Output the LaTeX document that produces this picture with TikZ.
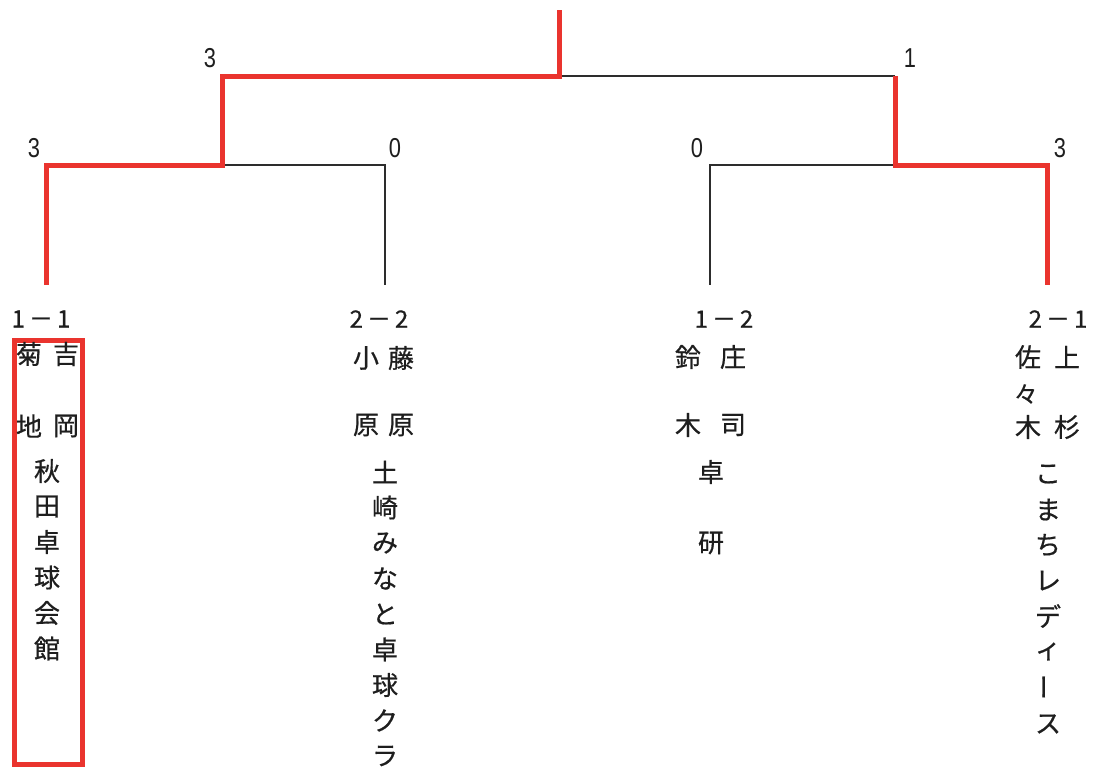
\documentclass[tikz,border=0pt]{standalone}
\usepackage{fontspec}
\setmainfont{Liberation Sans}
\newfontfamily\jpf[FakeBold=0.6]{Noto Sans CJK JP}
\newfontfamily\condf[FakeStretch=0.8]{Liberation Sans}
\definecolor{bred}{RGB}{234,52,46}
\definecolor{bline}{RGB}{45,45,45}
\definecolor{txt}{RGB}{30,30,30}
\begin{document}
\begin{tikzpicture}[x=0.75pt,y=-0.75pt,
  redline/.style={draw=bred,line width=3.75pt,line join=miter,line cap=butt},
  blackline/.style={draw=bline,line width=1.1pt},
  scorelab/.style={font=\condf\fontsize{20.5}{20.5}\selectfont,text=txt,inner sep=0pt},
  reslab/.style={font=\jpf\fontsize{18}{18}\selectfont,text=txt,inner sep=0pt},
  jc/.style={font=\jpf\fontsize{19.5}{19.5}\selectfont,text=txt,inner sep=0pt},
  jsmall/.style={font=\jpf\fontsize{18}{18}\selectfont,text=txt,inner sep=0pt}]
\useasboundingbox[fill=white] (0,0) rectangle (1100,771);
% bracket coordinates
\coordinate (top) at (559,10);
\coordinate (m) at (559,76);
\coordinate (l) at (222,76);
\coordinate (rr) at (895,76);
\coordinate (ll) at (222,165);
\coordinate (rm) at (895,165);
\coordinate (e1) at (46,285);
\coordinate (e2) at (385,285);
\coordinate (e3) at (710,285);
\coordinate (e4) at (1047,285);
\draw[blackline] (m) -- (rr);
\draw[blackline] (ll) -| (e2);
\draw[blackline] (rm) -| (e3);
\draw[redline] (top) -- (m) -- (l) -- (ll) -| (e1);
\draw[redline] (rr) -- (rm) -| (e4);
% match scores
\node[scorelab] (s1) at (210,58) {3};
\node[scorelab] (s2) at (910,58) {1};
\node[scorelab] (s3) at (34,148) {3};
\node[scorelab] (s4) at (395,148) {0};
\node[scorelab] (s5) at (697,148) {0};
\node[scorelab] (s6) at (1060,148) {3};
% team results
\node[reslab] (r1) at (41,319) {1\,－\,1};
\node[reslab] (r2) at (379,319) {2\,－\,2};
\node[reslab] (r3) at (724,319) {1\,－\,2};
\node[reslab] (r4) at (1058,319) {2\,－\,1};
% column 1
\draw[redline] (14.5,340.5) rectangle (82.5,764.5);
\node[jc] (n1a) at (29,354) {菊};
\node[jc] (n1b) at (66,354) {吉};
\node[jc] (n1c) at (29,426) {地};
\node[jc] (n1d) at (66,426) {岡};
\foreach \c [count=\i] in {秋,田,卓,球,会,館}
  \node[jc] (t1\i) at (47,{471+35.5*(\i-1)}) {\c};
% column 2
\node[jc] (n2a) at (366,358) {小};
\node[jc] (n2b) at (401,358) {藤};
\node[jc] (n2c) at (366,425) {原};
\node[jc] (n2d) at (401,425) {原};
\foreach \c [count=\i] in {土,崎,み,な,と,卓,球,ク,ラ}
  \node[jc] (t2\i) at (385,{472+35.5*(\i-1)}) {\c};
% column 3
\node[jc] (n3a) at (688,357) {鈴};
\node[jc] (n3b) at (733,357) {庄};
\node[jc] (n3c) at (688,425) {木};
\node[jc] (n3d) at (733,425) {司};
\node[jc] (t31) at (711,472) {卓};
\node[jc] (t32) at (711,543) {研};
% column 4
\node[jc] (n4a) at (1028,357) {佐};
\node[jsmall] (n4s) at (1026,394) {々};
\node[jc] (n4b) at (1067,357) {上};
\node[jc] (n4c) at (1028,427) {木};
\node[jc] (n4d) at (1067,427) {杉};
\foreach \c [count=\i] in {こ,ま,ち,レ,デ,ィ}
  \node[jc] (t4\i) at (1048,{474+35.5*(\i-1)}) {\c};
\node[jc,rotate=90] (t47) at (1048,687) {ー};
\node[jc] (t48) at (1048,724) {ス};
\end{tikzpicture}
\end{document}
